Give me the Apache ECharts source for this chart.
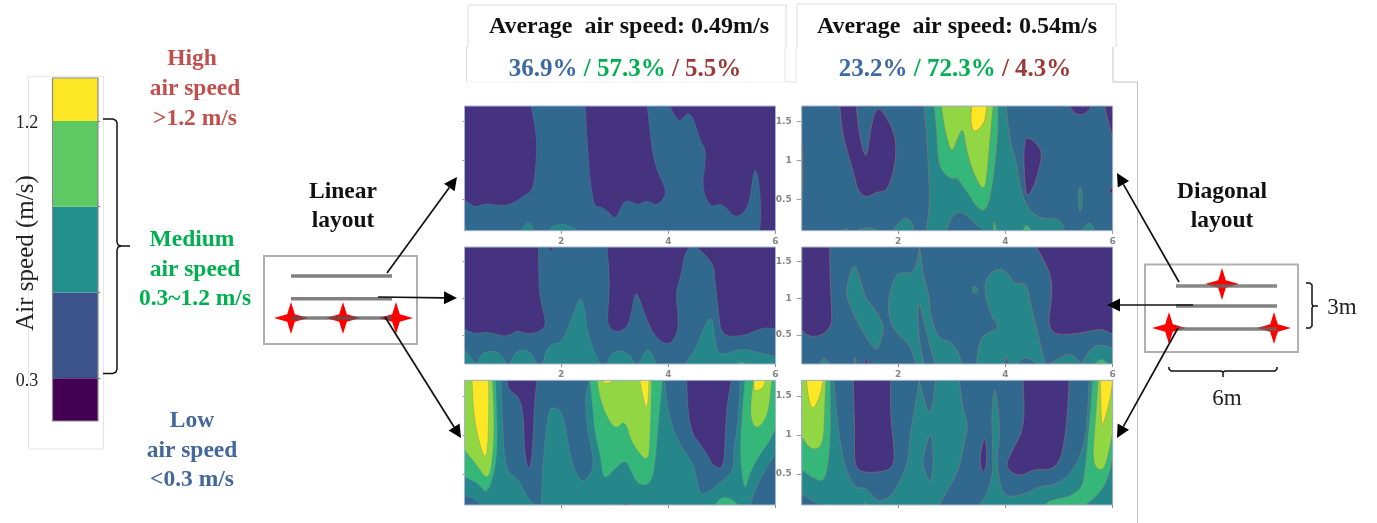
<!DOCTYPE html>
<html><head><meta charset="utf-8">
<style>html,body{margin:0;padding:0;background:#fff}#c{width:1377px;height:523px;filter:blur(0.55px)}</style>
<script src="https://cdn.jsdelivr.net/npm/echarts@6/dist/echarts.min.js"></script>
</head><body><div id="c"></div>
<script>
// colour-bar: stacked band widths (m/s) on a 0.15..1.35 scale
const legendBands = [0.3, 0.3, 0.3, 0.3, 0.15];
const legendLabels = ['0.3', '1.2'];
const legendTicks = [0.3, 0.6, 0.9, 1.2];
const xTicks = [2, 4, 6];
const yTicks = [0.5, 1, 1.5];

// Contour regions, [x (m), height (m)].
// Linear layout, top
const L1_purple = [
 [[.2,1.7],[1.44,1.7],[1.52,1.44],[1.55,1.18],[1.52,.84],[1.47,.62],[1.3,.54],[1.02,.42],[.77,.43],[.59,.45],[.41,.4],[.31,.44],[.2,.49]],
 [[3.61,1.7],[3.66,1.35],[3.72,1.05],[3.81,.84],[3.95,.64],[3.94,.54],[3.81,.43],[3.69,.45],[3.6,.49],[3.44,.43],[3.32,.47],[3.19,.49],[3.1,.37],[3.01,.25],[2.91,.32],[2.76,.41],[2.62,.4],[2.54,.75],[2.5,1.14],[2.45,1.7]],
 [[4.03,1.7],[4.13,1.56],[4.22,1.5],[4.31,1.58],[4.4,1.61],[4.49,1.5],[4.59,1.26],[4.7,1.14],[4.68,.92],[4.64,.71],[4.68,.54],[4.81,.4],[4.96,.45],[5.09,.39],[5.21,.28],[5.37,.3],[5.52,.45],[5.6,.92],[5.68,.79],[5.73,.41],[5.71,.1],[6,.1],[6,1.7]]
];
const L1_teal = [
 [[.2,.17],[.24,.1],[.2,.1]],
 [[1.24,.1],[1.36,.2],[1.44,.22],[1.49,.1]],
 [[1.78,.1],[1.83,.16],[2.01,.19],[2.2,.15],[2.34,.1]]
];
// Diagonal layout, top
const R1_purple = [
 [[.91,1.7],[.95,1.39],[1.04,1.14],[1.19,.79],[1.24,.62],[1.4,.52],[1.6,.6],[1.78,.6],[1.91,.84],[1.97,1.14],[1.91,1.39],[1.72,1.63],[1.59,1.68],[1.49,1.43],[1.41,1.01],[1.32,1.18],[1.24,1.52],[1.22,1.7]],
 [[4.36,1.26],[4.42,1.3],[4.58,1.22],[4.69,1.09],[4.61,.84],[4.49,.6],[4.39,.54],[4.36,.75],[4.34,1.05]],
 [[5.19,1.7],[5.29,1.61],[5.42,1.58],[5.54,1.63],[5.6,1.7]],
 [[5.85,1.7],[5.91,1.52],[6,1.29],[6,1.7]],
 [[5.91,.59],[6,.67],[6,.59]],
 [[.2,1.26],[.22,1.01],[.2,.32]]
];
const R1_teal = [
 [[2.48,1.7],[2.53,1.35],[2.56,.92],[2.59,.54],[2.56,.28],[2.52,.1],[2.9,.1],[2.98,.26],[3.12,.35],[3.27,.3],[3.43,.19],[3.59,.1],[5.11,.1],[5.01,.26],[4.64,.25],[4.39,.41],[4.27,.67],[4.21,.97],[4.08,1.26],[4.01,1.7]],
 [[.96,.1],[1.01,.14],[1.07,.1]],
 [[1.19,.1],[1.47,.15],[1.6,.1]],
 [[1.88,.1],[2.03,.22],[2.14,.27],[2.25,.22],[2.3,.1]],
 [[5.42,.1],[5.57,.23],[5.67,.1]],
 [[5.36,.64],[5.42,.67],[5.44,.45],[5.39,.32],[5.36,.45]]
];
const R1_green = [
 [[2.67,1.7],[2.72,1.35],[2.75,.97],[2.84,.84],[3,.76],[3.09,.79],[3.21,.67],[3.34,.54],[3.46,.41],[3.6,.34],[3.71,.49],[3.8,.92],[3.86,1.35],[3.86,1.7]],
 [[3.77,.1],[3.79,.26],[3.83,.1]],
 [[4.32,.1],[4.39,.19],[4.49,.1]]
];
const R1_lime = [
 [[2.81,1.7],[2.84,1.52],[2.9,1.31],[3,1.09],[3.09,1.26],[3.21,1.44],[3.27,1.14],[3.4,.84],[3.6,.59],[3.66,.84],[3.72,1.35],[3.77,1.7]]
];
const R1_yellow = [
 [[3.37,1.7],[3.35,1.52],[3.39,1.37],[3.49,1.39],[3.62,1.5],[3.65,1.7]],
 [[2.98,1.7],[3,1.67],[3.03,1.7]]
];
// Linear layout, middle
const L2_purple = [
 [[.2,1.7],[1.58,1.7],[1.59,1.11],[1.65,.88],[1.72,.66],[1.65,.56],[1.45,.51],[1.27,.53],[1.18,.56],[.99,.47],[.77,.51],[.59,.54],[.4,.51],[.2,.57]],
 [[1.77,1.7],[1.81,1.59],[1.84,1.7]],
 [[2.86,1.7],[2.91,1.2],[2.87,.79],[2.87,.63],[3.01,.53],[3.19,.57],[3.29,.7],[3.38,1.07],[3.44,1.04],[3.6,.7],[3.75,.47],[4,.35],[4.14,.47],[4.2,.66],[4.14,1.09],[4.22,1.25],[4.31,1.61],[4.4,1.7]],
 [[4.53,1.7],[4.84,1.48],[4.87,1.25],[4.93,.84],[4.99,.48],[5.37,.48],[5.59,.54],[5.8,.6],[6,.58],[6,1.7]]
];
const L2_teal = [
 [[.2,.3],[.41,.1],[.2,.1]],
 [[.43,.1],[.52,.25],[.71,.28],[.86,.25],[.99,.1]],
 [[1.05,.1],[1.13,.25],[1.3,.3],[1.45,.25],[1.55,.1]],
 [[1.66,.1],[1.73,.31],[1.86,.38],[2.01,.39],[2.17,.66],[2.39,1.1],[2.48,.57],[2.6,.29],[2.73,.1]],
 [[2.85,.1],[2.95,.25],[3.1,.29],[3.29,.22],[3.38,.1]],
 [[3.45,.1],[3.6,.32],[3.69,.25],[3.77,.1]],
 [[4.31,.1],[4.5,.29],[4.65,.57],[4.81,.79],[4.87,.43],[4.93,.25],[5.03,.23],[5.37,.31],[5.62,.27],[6,.2],[6,.1]]
];
const L2_green = [[[5.27,.1],[5.37,.13],[5.46,.1]]];
// Diagonal layout, middle
const R2_purple = [
 [[.2,1.7],[.72,1.7],[.73,1.25],[.76,.79],[.76,.63],[.6,.5],[.42,.47],[.29,.5],[.2,.57]],
 [[4.58,1.7],[4.77,1.45],[4.88,1.2],[4.84,.88],[4.8,.66],[4.89,.52],[5.08,.5],[5.39,.52],[5.63,.56],[5.79,.58],[6,.51],[6,1.7]],
 [[1.36,.1],[1.4,.18],[1.44,.1]],
 [[1.97,.1],[2.01,.13],[2.04,.1]]
];
const R2_teal = [
 [[.54,.1],[.6,.19],[.7,.13],[.73,.1]],
 [[1.18,.1],[1.19,.22],[1.22,.1]],
 [[1.19,1.48],[1.29,1.25],[1.38,1.02],[1.57,.84],[1.75,.61],[1.66,.38],[1.6,.28],[1.47,.38],[1.29,.61],[1.07,.93],[1.03,1.11],[1.1,1.34]],
 [[2.4,1.7],[2.47,1.29],[2.57,1.07],[2.6,.75],[2.75,.45],[2.96,.41],[3.09,.32],[3.19,.1],[2.68,.1],[2.56,.43],[2.47,.7],[2.4,.95],[2.36,.84],[2.39,.43],[2.48,.1],[2.33,.1],[2.22,.36],[1.91,.56],[1.8,.84],[1.85,1.11],[1.97,1.35],[2.25,1.34],[2.34,1.45]],
 [[3.37,1.11],[3.41,1.18],[3.51,1.1],[3.43,1.06]],
 [[3.63,1.25],[3.74,1.36],[3.9,1.41],[4.05,1.34],[4.18,1.18],[4.39,1.23],[4.49,.84],[4.61,.52],[4.7,.2],[4.75,.1],[4.58,.1],[4.39,.21],[4.21,.1],[4.07,.1],[4.01,.24],[3.98,.1],[3.45,.1],[3.51,.38],[3.59,.5],[3.9,.59],[3.74,.75],[3.61,1.07]],
 [[4.83,.1],[5.2,.27],[5.42,.1],[5.6,.33],[5.82,.37],[6,.31],[6,.1]]
];
const R2_green = [[[5.65,.1],[5.79,.18],[5.92,.1]]];
// Linear layout, bottom
const L3_purple = [
 [[.99,1.7],[1.02,1.58],[1.21,1.49],[1.3,1.28],[1.32,.76],[1.4,.52],[1.47,.76],[1.5,1.36],[1.55,1.7]],
 [[4.34,1.7],[4.39,1.06],[4.68,.81],[4.84,.59],[5.03,.57],[5.06,.93],[5.09,1.36],[5.18,1.7]],
 [[3.13,.1],[3.21,.13],[3.29,.1]]
];
const L3_teal = [
 [[.2,1.7],[.88,1.7],[.91,1.11],[.96,.55],[1.21,.42],[1.3,.29],[1.47,.11],[1.63,.1],[1.67,.72],[1.77,1.34],[1.89,1.35],[2.04,1.28],[2.17,.72],[2.31,.46],[2.42,.39],[2.6,.55],[2.6,.72],[2.48,1.11],[2.45,1.53],[2.54,1.7],[3.93,1.7],[4,1.28],[4.16,.93],[4.47,.63],[4.53,.42],[4.61,.2],[4.93,.36],[5.23,.55],[5.21,.76],[5.31,1.19],[5.34,1.7],[6,1.7],[6,.1],[.2,.1]]
];
const L3_blue = [
 [[.2,.22],[.37,.19],[.51,.1],[.2,.1]],
 [[6,.76],[5.68,.4],[5.52,.1],[6,.1]]
];
const L3_green = [
 [[.2,1.7],[.78,1.7],[.82,.93],[.77,.55],[.62,.23],[.46,.38],[.2,.46]],
 [[2.54,1.7],[2.59,1.36],[2.63,1.02],[2.73,.76],[2.79,.41],[2.98,.55],[3.21,.69],[3.32,.51],[3.44,.36],[3.66,.36],[3.75,.59],[3.81,1.11],[3.89,1.7]],
 [[5.43,1.7],[5.36,1.11],[5.34,.72],[5.42,.26],[5.52,.51],[5.68,.72],[5.9,.93],[6,1.08],[6,1.7]],
 [[4.87,.1],[4.99,.2],[5.15,.19],[5.31,.1]]
];
const L3_lime = [
 [[.2,1.7],[.72,1.7],[.76,1.11],[.71,.59],[.62,.42],[.43,.61],[.2,.81]],
 [[2.67,1.7],[2.76,1.36],[3.01,1.05],[3.19,1.2],[3.32,.89],[3.62,.63],[3.66,.93],[3.69,1.7]],
 [[5.59,1.7],[5.52,1.28],[5.62,1.05],[5.86,1.23],[5.93,1.7]]
];
const L3_yellow = [
 [[.34,1.7],[.65,1.7],[.65,1.02],[.6,.65],[.46,.93],[.37,1.28]],
 [[2.79,1.7],[2.82,1.65],[3.01,1.7]],
 [[3.47,1.7],[3.54,1.45],[3.6,1.32],[3.63,1.49],[3.64,1.7]],
 [[5.6,1.7],[5.6,1.55],[5.77,1.6],[5.81,1.7]]
];
// Diagonal layout, bottom
const R3_purple = [
 [[1.16,1.7],[1.19,1.06],[1.18,.63],[1.29,.52],[1.66,.52],[1.88,.57],[1.94,.72],[1.85,1.28],[1.86,1.7]],
 [[4.33,1.7],[4.36,1.11],[4.14,.81],[4.01,.63],[4.08,.53],[4.27,.47],[4.58,.57],[4.83,.54],[5.04,.68],[5.14,1.11],[5.19,1.7]],
 [[3.6,.98],[3.52,.72],[3.55,.55],[3.6,.51],[3.65,.63],[3.65,.85]]
];
const R3_teal = [
 [[.2,1.7],[.8,1.7],[.85,1.23],[.98,.63],[1.19,.31],[1.4,.33],[1.6,.14],[1.85,.19],[2.03,.4],[2.19,.66],[2.21,.96],[2.31,1.34],[2.39,1.7],[2.6,1.16],[2.7,1.7],[3.14,1.7],[3.2,1.34],[3.31,1.13],[3.21,.83],[3.12,.53],[2.9,.27],[2.77,.1],[.2,.1]],
 [[3.52,.1],[3.66,.25],[3.77,.51],[3.76,.85],[3.74,1.28],[3.8,1.65],[3.86,1.36],[3.9,.98],[3.83,.68],[3.9,.34],[4.02,.2],[4.33,.23],[4.64,.34],[4.95,.36],[5.26,.53],[5.51,.93],[5.56,1.7],[6,1.7],[6,.1]]
];
const R3_blue = [
 [[2.6,1.06],[2.47,.74],[2.45,.63],[2.59,.36],[2.65,.53],[2.65,.83]],
 [[.2,.24],[.54,.1],[.2,.1]]
];
const R3_green = [
 [[.2,1.7],[.73,1.7],[.74,.93],[.67,.51],[.57,.38],[.2,.55]],
 [[5.63,1.7],[5.54,.93],[5.48,.51],[5.42,.31],[5.2,.21],[4.83,.16],[4.73,.1],[5.48,.1],[5.7,.21],[5.91,.42],[6,.72],[6,1.7]],
 [[1.35,.1],[1.39,.13],[1.43,.1]]
];
const R3_lime = [
 [[.2,1.7],[.65,1.7],[.63,1.36],[.6,.84],[.36,.81],[.2,.98]],
 [[5.73,1.7],[5.67,1.11],[5.62,.63],[5.81,.52],[5.91,.72],[6,1.04],[6,1.7]]
];
const R3_yellow = [
 [[.29,1.7],[.6,1.7],[.54,1.49],[.4,1.3],[.32,1.49]],
 [[5.77,1.7],[5.79,1.08],[5.85,1.19],[5.95,1.45],[6,1.7]]
];

const C = {purple:'#46337f', blue:'#31688e', teal:'#26878b', green:'#35b779', lime:'#90d743', yellow:'#fde725'};
const LEG = ['#440154','#3b528b','#21908d','#5ec962','#fde725'];
const SERIF = '"Liberation Serif"';
const XMIN=.2, XMAX=6, YMIN=.1, YMAX=1.7;

const panels = [
 {box:[464.5,106,311,124.7], labelX:true,  labelY:false, line:'rgba(110,150,150,.35)', layers:[['teal',L1_teal],['purple',L1_purple]]},
 {box:[464.5,247,311,117],   labelX:true,  labelY:false, line:'rgba(110,150,120,.45)', layers:[['teal',L2_teal],['green',L2_green],['purple',L2_purple]]},
 {box:[464.5,380.3,311,124.7],labelX:false, labelY:false, line:'rgba(130,140,140,.45)', layers:[['teal',L3_teal],['blue',L3_blue],['green',L3_green],['lime',L3_lime],['yellow',L3_yellow],['purple',L3_purple]]},
 {box:[801.7,106,311,124.7], labelX:true,  labelY:true,  line:'rgba(175,115,95,.6)', layers:[['teal',R1_teal],['green',R1_green],['lime',R1_lime],['yellow',R1_yellow],['purple',R1_purple]]},
 {box:[801.7,247,311,117],   labelX:true,  labelY:true,  line:'rgba(175,115,95,.6)', layers:[['teal',R2_teal],['green',R2_green],['purple',R2_purple]]},
 {box:[801.7,380.3,311,124.7],labelX:false, labelY:true,  line:'rgba(165,125,105,.55)', layers:[['teal',R3_teal],['blue',R3_blue],['green',R3_green],['lime',R3_lime],['yellow',R3_yellow],['purple',R3_purple]]}
];

// curve rounding of a traced outline (corner cutting), frame points stay in place
function onFrame(p){return Math.abs(p[0]-XMIN)<1e-6||Math.abs(p[0]-XMAX)<1e-6||Math.abs(p[1]-YMIN)<1e-6||Math.abs(p[1]-YMAX)<1e-6;}
function round(pts){
  let cur=pts.map(p=>({p,f:onFrame(p)}));
  for(let it=0;it<2;it++){
    const out=[];
    for(let i=0;i<cur.length;i++){
      const a=cur[i],b=cur[(i+1)%cur.length];
      if(a.f) out.push(a);
      else out.push({p:[a.p[0]*.75+b.p[0]*.25,a.p[1]*.75+b.p[1]*.25],f:false});
      if(!b.f) out.push({p:[a.p[0]*.25+b.p[0]*.75,a.p[1]*.25+b.p[1]*.75],f:false});
    }
    cur=out;
  }
  return cur.map(o=>o.p);
}

const grids=[],xAxes=[],yAxes=[],series=[];
panels.forEach((P,i)=>{
  grids.push({left:P.box[0],top:P.box[1],width:P.box[2],height:P.box[3],outerBoundsMode:'none',show:true,backgroundColor:C.blue,borderWidth:0});
  xAxes.push({type:'value',gridIndex:i,min:XMIN,max:XMAX,splitLine:{show:false},axisLine:{show:false},
    axisTick:{show:true,length:3,customValues:xTicks,lineStyle:{color:'#8c8c8c',width:1}},
    axisLabel:{show:P.labelX,customValues:xTicks,margin:6,color:'#858585',fontSize:9,fontWeight:'bold',fontFamily:'"DejaVu Sans"'}});
  yAxes.push({type:'value',gridIndex:i,min:YMIN,max:YMAX,splitLine:{show:false},axisLine:{show:false},
    axisTick:{show:true,length:P.labelY?5:2,customValues:yTicks,lineStyle:{color:'#9a9a9a',width:1}},
    axisLabel:{show:P.labelY,customValues:yTicks,margin:10,color:'#858585',fontSize:9,fontWeight:'bold',fontFamily:'"DejaVu Sans"',
      formatter:v=>String(v)}});
  P.layers.forEach(([band,polys])=>{
    series.push({type:'custom',xAxisIndex:i,yAxisIndex:i,clip:true,silent:true,z:3,
      coordinateSystem:'cartesian2d',data:polys.map((_,k)=>[k]),encode:{x:[],y:[]},
      renderItem:(params,api)=>({type:'polygon',
        shape:{points:round(polys[api.value(0)]).map(p=>api.coord(p))},
        style:{fill:C[band],stroke:P.line,lineWidth:.8}})});
  });
  const frame=[[XMIN,YMIN],[XMAX,YMIN],[XMAX,YMAX],[XMIN,YMAX]];
  series.push({type:'custom',xAxisIndex:i,yAxisIndex:i,silent:true,z:4,clip:false,data:[[0]],encode:{x:[],y:[]},
    renderItem:(params,api)=>({type:'polygon',shape:{points:frame.map(p=>api.coord(p))},
      style:{fill:'none',stroke:'#a3b4cf',lineWidth:1}})});
});

// colour bar
const li=panels.length;
grids.push({left:52.5,top:78,width:45.5,height:343,outerBoundsMode:'none'});
xAxes.push({type:'category',gridIndex:li,data:['speed'],axisLine:{show:false},axisTick:{show:false},axisLabel:{show:false}});
yAxes.push({type:'value',gridIndex:li,min:.15,max:1.35,splitLine:{show:false},axisLine:{show:false},axisTick:{show:false},axisLabel:{show:false}});
yAxes.push({type:'value',gridIndex:li,position:'right',min:.15,max:1.35,splitLine:{show:false},axisLine:{show:false},
  axisLabel:{show:false},axisTick:{show:true,length:2,customValues:legendTicks,lineStyle:{color:'#777'}}});
legendBands.forEach((v,k)=>series.push({type:'bar',xAxisIndex:li,yAxisIndex:li,stack:'speed',barWidth:'100%',silent:true,
  data:[v],itemStyle:{color:LEG[k]}}));

// annotations
const g=[];
const txt=(s,x,y,font,fill)=>g.push({type:'text',silent:true,z:20,style:{text:s,x,y:y+1,align:'center',verticalAlign:'middle',font,fill}});
const ln=(x1,y1,x2,y2,stroke,w)=>g.push({type:'line',silent:true,z:20,shape:{x1,y1,x2,y2},style:{stroke,lineWidth:w}});
const pl=(pts,stroke,w)=>g.push({type:'polyline',silent:true,z:20,shape:{points:pts},style:{stroke,lineWidth:w,fill:'none'}});
const box=(x,y,w,h,stroke,lw)=>g.push({type:'rect',silent:true,z:12,shape:{x,y,width:w,height:h},style:{fill:'none',stroke,lineWidth:lw}});
const star=(x,y)=>{const a=17,b=16,c=3.8;g.push({type:'polygon',silent:true,z:19,shape:{points:[[x-a,y],[x-c,y-c],[x,y-b],[x+c,y-c],[x+a,y],[x+c,y+c],[x,y+b],[x-c,y+c]]},style:{fill:'#ff0000'}});};
const arrow=(x1,y1,x2,y2)=>{const d=Math.hypot(x2-x1,y2-y1),ux=(x2-x1)/d,uy=(y2-y1)/d,L=13,W=6.5;
  const bx=x2-ux*L,by=y2-uy*L;ln(x1,y1,bx,by,'#111',1.7);
  g.push({type:'polygon',silent:true,z:21,shape:{points:[[x2,y2],[bx-uy*W,by+ux*W],[bx+uy*W,by-ux*W]]},style:{fill:'#000'}});};

const BOLD=`bold 23.5px ${SERIF}`, REG=`23px ${SERIF}`;
const RED='#c0504d',GRN='#00b050',BLU='#44689c';
box(28.5,76.5,75,372.5,'#e6e6e6',1);
box(52.5,78,45.5,343,'#8a8a8a',1.2);
txt(legendLabels[1],27,122,`18px ${SERIF}`,'#222');txt(legendLabels[0],27,380,`18px ${SERIF}`,'#222');
g.push({type:'text',silent:true,z:20,rotation:Math.PI/2,x:26,y:253,style:{text:'Air speed (m/s)',x:0,y:0,align:'center',verticalAlign:'middle',font:`25px ${SERIF}`,fill:'#222'}});
txt('High',192,58,BOLD,RED);txt('air speed',195,88,BOLD,RED);txt('>1.2 m/s',195,118,BOLD,RED);
txt('Medium',192,239,BOLD,GRN);txt('air speed',195,269,BOLD,GRN);txt('0.3~1.2 m/s',195,298,BOLD,GRN);
txt('Low',192,420,BOLD,BLU);txt('air speed',192,450,BOLD,BLU);txt('<0.3 m/s',192,479,BOLD,BLU);
pl([[103,119],[113,119],[116,120.5],[117,123],[117,242],[118,245],[121,246],[130,246],[121,246],[118,247],[117,250],[117,369],[116,372],[113,373.5],[103,373.5]],'#111',1.5);

txt('Linear',343,191,BOLD,'#111');txt('layout',343,220,BOLD,'#111');
txt('Diagonal',1222,191,BOLD,'#111');txt('layout',1222,220,BOLD,'#111');

// title boxes
pl([[468,47],[468,5],[786,5],[786,47]],'#dcdcdc',1);
pl([[466.5,82],[466.5,47],[468,47]],'#dcdcdc',1);
pl([[466.5,82],[785,82]],'#efefef',1);
pl([[797,47],[797,4],[1116,4],[1116,47]],'#dcdcdc',1);
pl([[785,47],[785,82],[796,82],[796,47]],'#e4e4e4',1);
pl([[1113,47],[1113,82],[1137.5,82],[1137.5,523]],'#c4c4c4',1);
txt('Average  air speed: 0.49m/s',629,26,`bold 24px ${SERIF}`,'#111');
txt('Average  air speed: 0.54m/s',957,26,`bold 24px ${SERIF}`,'#111');
const PF=`bold 25px ${SERIF}`;
const PCT={b:{fill:'#3d6aa0',font:PF},g:{fill:GRN,font:PF},r:{fill:'#9b3a38',font:PF}};
g.push({type:'text',silent:true,z:20,style:{text:'{b|36.9%}{g| / 57.3%}{r| / 5.5%}',x:625,y:70,align:'center',verticalAlign:'middle',rich:PCT}});
g.push({type:'text',silent:true,z:20,style:{text:'{b|23.2%}{g| / 72.3%}{r| / 4.3%}',x:955,y:70,align:'center',verticalAlign:'middle',rich:PCT}});

// linear schematic
box(264,256,153,88,'#b0b0b0',2);
[291,343,396].forEach(x=>star(x,318));
ln(291,276,392,276,'#808080',3.5);ln(291,298.7,392,298.7,'#808080',3.5);ln(291,318,392,318,'rgba(85,85,85,.75)',3.5);
arrow(387,273,457,177);arrow(378,297,457,298);arrow(385,317,461,438);

// diagonal schematic
box(1145,264.5,153,87.5,'#b0b0b0',2);
[[1222,284],[1169,328],[1274,328]].forEach(s=>star(s[0],s[1]));
ln(1176,286,1277,286,'rgba(105,105,105,.8)',3.5);ln(1176,306,1277,306,'#808080',3.5);ln(1176,329,1277,329,'rgba(100,100,100,.8)',3.5);
arrow(1179,282,1117,173);arrow(1193,305,1107,305);arrow(1178,328,1117,438);
pl([[1306,283],[1310,283],[1312,285],[1312,304],[1313,306],[1318,306],[1313,306],[1312,308],[1312,326],[1310,328],[1306,328]],'#111',1.5);
txt('3m',1342,307,REG,'#222');
pl([[1169,367],[1169,369],[1171,371],[1221,371],[1223,372],[1223,377],[1223,372],[1225,371],[1275,371],[1277,369],[1277,367]],'#111',1.5);
txt('6m',1227,398,REG,'#222');

const chart=echarts.init(document.getElementById('c'),null,{width:1377,height:523});
chart.setOption({animation:false,backgroundColor:'#fff',grid:grids,xAxis:xAxes,yAxis:yAxes,series,graphic:{elements:g}});
</script></body></html>
